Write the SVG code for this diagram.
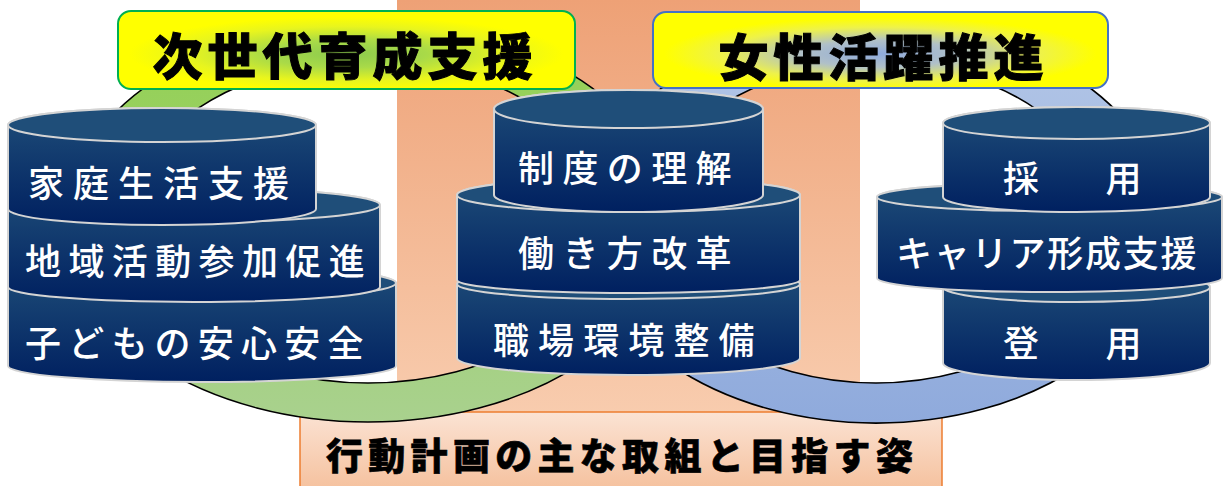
<svg xmlns="http://www.w3.org/2000/svg" width="1223" height="486" viewBox="0 0 1223 486">
  <defs>
    <linearGradient id="band" x1="0" y1="0" x2="0" y2="1">
      <stop offset="0" stop-color="#EEA176"/>
      <stop offset="1" stop-color="#F8CCAE"/>
    </linearGradient>
    <linearGradient id="boxg" x1="0" y1="0" x2="0" y2="1">
      <stop offset="0" stop-color="#FBE3D4"/>
      <stop offset="1" stop-color="#F5C09C"/>
    </linearGradient>
    <linearGradient id="greenRing" x1="0" y1="0" x2="0" y2="1">
      <stop offset="0" stop-color="#92D050"/>
      <stop offset="1" stop-color="#A9D18E"/>
    </linearGradient>
    <linearGradient id="blueRing" x1="0" y1="0" x2="0" y2="1">
      <stop offset="0" stop-color="#B4C7E7"/>
      <stop offset="1" stop-color="#8FAADC"/>
    </linearGradient>
    <linearGradient id="navy" x1="0" y1="0" x2="0" y2="1">
      <stop offset="0" stop-color="#1F4E79"/>
      <stop offset="1" stop-color="#002060"/>
    </linearGradient>
    <radialGradient id="titleGreen" cx="0.5" cy="0.55" r="0.5">
      <stop offset="0" stop-color="#8CCB4E"/>
      <stop offset="0.35" stop-color="#A9DA48"/>
      <stop offset="0.7" stop-color="#E8F51E"/>
      <stop offset="0.95" stop-color="#FFFF00"/>
    </radialGradient>
    <radialGradient id="titleBlue" cx="0.5" cy="0.55" r="0.5">
      <stop offset="0" stop-color="#8FAADC"/>
      <stop offset="0.35" stop-color="#B0C0C8"/>
      <stop offset="0.7" stop-color="#EEF24A"/>
      <stop offset="0.95" stop-color="#FFFF00"/>
    </radialGradient>
  </defs>
  <style>
    .ring { stroke:#000; stroke-width:1.6; fill-rule:evenodd; }
    .body { fill:url(#navy); stroke:#D4D4D4; stroke-width:2; }
    .top { fill:#1F4E79; stroke:#D4D4D4; stroke-width:2; }
    .label { font-family:"Noto Sans CJK JP","Noto Sans",sans-serif; font-size:36px; fill:#FFFFFF; font-weight:500; }
    .title { font-family:"Noto Sans CJK JP","Noto Sans",sans-serif; font-size:50px; font-weight:900; fill:#000; stroke:#000; stroke-width:1; }
    .foot { font-family:"Noto Sans CJK JP","Noto Sans",sans-serif; font-size:37px; font-weight:900; fill:#000; stroke:#000; stroke-width:0.6; }
  </style>

  <!-- background band and footer box -->
  <rect x="397" y="0" width="463" height="413" fill="url(#band)"/>
  <g id="footer">
    <rect x="300" y="412" width="642" height="80" fill="url(#boxg)" stroke="#ED7D31" stroke-width="1.5"/>
    <text class="foot" x="326" y="470" letter-spacing="5.3">行動計画の主な取組と目指す姿</text>
  </g>

  <!-- rings -->
  <g id="connectors">
    <path class="ring" fill="url(#greenRing)" d="M66,222 A302,200 0 1 0 670,222 A302,200 0 1 0 66,222 Z M128,222 A240,161 0 1 0 608,222 A240,161 0 1 0 128,222 Z"/>
    <path class="ring" fill="url(#blueRing)" d="M586,223 A290,200 0 1 0 1166,223 A290,200 0 1 0 586,223 Z M648,223 A228,160 0 1 0 1104,223 A228,160 0 1 0 648,223 Z"/>
  </g>

  <!-- left stack -->
  <g id="kodomo">
    <path class="body" d="M8,283 L8,366 A194,16 0 0 0 396,366 L396,283 A194,17 0 0 0 8,283 Z"/>
    <ellipse class="top" cx="202" cy="283" rx="194" ry="17"/>
    <text class="label" x="25" y="357" letter-spacing="7.2">子どもの安心安全</text>
  </g>
  <g id="chiiki">
    <path class="body" d="M8,205 L8,287 A186,15 0 0 0 380,287 L380,205 A186,17 0 0 0 8,205 Z"/>
    <ellipse class="top" cx="194" cy="205" rx="186" ry="17"/>
    <text class="label" x="25" y="275" font-size="35" letter-spacing="7.4">地域活動参加促進</text>
  </g>
  <g id="katei">
    <path class="body" d="M8,125 L8,209 A154,16 0 0 0 316,209 L316,125 A154,17 0 0 0 8,125 Z"/>
    <ellipse class="top" cx="162" cy="125" rx="154" ry="17"/>
    <text class="label" x="28" y="197" letter-spacing="9">家庭生活支援</text>
  </g>

  <!-- center stack -->
  <g id="shokuba">
    <path class="body" d="M457,284 L457,358 A171.5,17 0 0 0 800,358 L800,284 A171.5,15 0 0 0 457,284 Z"/>
    <ellipse class="top" cx="628.5" cy="284" rx="171.5" ry="15"/>
    <text class="label" x="493" y="354" letter-spacing="9.1">職場環境整備</text>
  </g>
  <g id="hatarakikata">
    <path class="body" d="M457,195 L457,280 A171.5,13 0 0 0 800,280 L800,195 A171.5,17 0 0 0 457,195 Z"/>
    <ellipse class="top" cx="628.5" cy="195" rx="171.5" ry="17"/>
    <text class="label" x="518" y="267" letter-spacing="8.4">働き方改革</text>
  </g>
  <g id="seido">
    <path class="body" d="M494,109 L494,195 A134.5,17 0 0 0 763,195 L763,109 A134.5,19 0 0 0 494,109 Z"/>
    <ellipse class="top" cx="628.5" cy="109" rx="134.5" ry="19"/>
    <text class="label" x="518" y="182" letter-spacing="8.4">制度の理解</text>
  </g>

  <!-- right stack -->
  <g id="toyo">
    <path class="body" d="M943,287 L943,363 A133.5,17 0 0 0 1210,363 L1210,287 A133.5,15 0 0 0 943,287 Z"/>
    <ellipse class="top" cx="1076.5" cy="287" rx="133.5" ry="15"/>
    <text class="label" x="1003" y="357" letter-spacing="15.3">登　用</text>
  </g>
  <g id="career">
    <path class="body" d="M877,197 L877,278 A172.5,14 0 0 0 1222,278 L1222,197 A172.5,14 0 0 0 877,197 Z"/>
    <ellipse class="top" cx="1049.5" cy="197" rx="172.5" ry="14"/>
    <text class="label" x="896" y="267" font-size="34" letter-spacing="1.8">キャリア形成支援</text>
  </g>
  <g id="saiyo">
    <path class="body" d="M943,123 L943,197 A133.5,15 0 0 0 1210,197 L1210,123 A133.5,16 0 0 0 943,123 Z"/>
    <ellipse class="top" cx="1076.5" cy="123" rx="133.5" ry="16"/>
    <text class="label" x="1003" y="192" letter-spacing="15.3">採　用</text>
  </g>

  <!-- titles -->
  <g id="title-jisedai">
    <rect x="118" y="11" width="457" height="78" rx="13" fill="url(#titleGreen)" stroke="#00B050" stroke-width="2"/>
    <text class="title" x="152.5" y="75" letter-spacing="5">次世代育成支援</text>
  </g>
  <g id="title-josei">
    <rect x="653" y="12" width="455" height="76" rx="13" fill="url(#titleBlue)" stroke="#4472C4" stroke-width="2"/>
    <text class="title" x="718.5" y="76" letter-spacing="5">女性活躍推進</text>
  </g>
</svg>
